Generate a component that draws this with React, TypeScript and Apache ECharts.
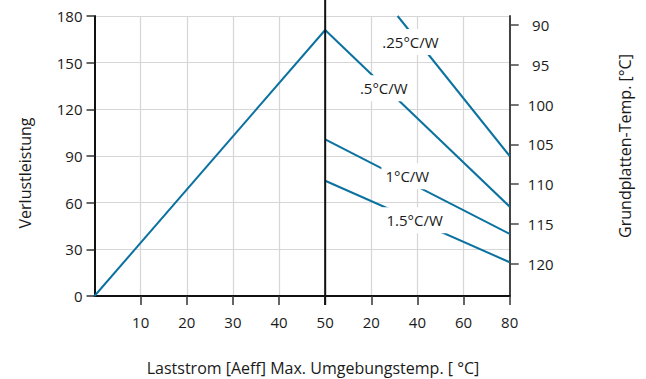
import React, { useEffect, useRef } from "react";
import * as echarts from "echarts";

// Left part of x axis: load current [Aeff]; right part: max ambient temperature [°C]
const currentTicks = [10, 20, 30, 40, 50];
const ambientTicks = [20, 40, 60, 80];
const powerTicks = [0, 30, 60, 90, 120, 150, 180];
const plateTempTicks = [90, 95, 100, 105, 110, 115, 120];

// Power loss vs. load current
const rampCurrent = [0, 50];
const rampPower = [0, 171];

// Max ambient temperature vs. power loss for each thermal resistance
const resistanceNames = [".25°C/W", ".5°C/W", "1°C/W", "1.5°C/W"];
const resAmbient = [
  [31.4, 80],
  [0, 80],
  [0, 80],
  [0, 80],
];
const resPower = [
  [180, 90],
  [171, 57.4],
  [100.7, 39.9],
  [74.1, 21.7],
];
// where each curve's label sits (ambient °C, power)
const labelAmbient = [37, 25.4, 35.6, 38.8];
const labelPower = [163.3, 133.5, 77, 48.7];

const FONT = "Open Sans";
const TEXT = "#1a1a1a";
const BLUE = "#0b72a0";

// combined x axis: 0..50 = current, 50..90 = ambient 0..80
const ambToX = (a: number) => 50 + a / 2;

export default function App() {
  const ref = useRef<HTMLDivElement>(null);
  useEffect(() => {
    document.body.style.margin = "0";
    const chart = echarts.init(ref.current!, null, { renderer: "svg" });
    const xTickVals = [...currentTicks, ...ambientTicks.map(ambToX)];
    const xLabelText = (v: number) => {
      if (v <= 50) return String(v);
      const i = ambientTicks.findIndex((a) => Math.abs(ambToX(a) - v) < 1e-6);
      return i >= 0 ? String(ambientTicks[i]) : "";
    };
    const series: any[] = [
      {
        type: "line",
        data: rampCurrent.map((c, i) => [c, rampPower[i]]),
        symbol: "none",
        lineStyle: { color: BLUE, width: 2 },
        z: 2,
      },
      ...resistanceNames.map((n, k) => ({
        type: "line",
        name: n,
        data: resAmbient[k].map((a, i) => [ambToX(a), resPower[k][i]]),
        symbol: "none",
        lineStyle: { color: BLUE, width: 2 },
        z: 2,
      })),
    ];
    chart.setOption({
      animation: false,
      textStyle: { fontFamily: FONT },
      grid: { left: 94.5, top: 16, right: 136.3, bottom: 83, containLabel: false },
      xAxis: {
        type: "value",
        min: 0,
        max: 90,
        interval: 10,
        axisLine: { show: true, onZero: false, lineStyle: { color: "#111", width: 2 } },
        axisTick: { show: true, length: 9, customValues: xTickVals, lineStyle: { color: "#333", width: 1.5 } },
        axisLabel: {
          customValues: xTickVals,
          formatter: xLabelText,
          color: TEXT,
          fontFamily: FONT,
          fontSize: 15,
          margin: 18,
        },
        splitLine: { show: true, lineStyle: { color: "#d6d6d6", width: 1.2 } },
      },
      yAxis: [
        {
          type: "value",
          min: 0,
          max: 180,
          interval: 30,
          position: "left",
          axisLine: { show: true, lineStyle: { color: "#111", width: 2 } },
          axisTick: { show: true, length: 8, lineStyle: { color: "#333", width: 1.5 } },
          axisLabel: { color: TEXT, fontFamily: FONT, fontSize: 15, margin: 12 },
          splitLine: { show: true, lineStyle: { color: "#d6d6d6", width: 1.2 } },
        },
        {
          type: "value",
          inverse: true,
          min: 88.86,
          max: 124.05,
          position: "right",
          axisLine: { show: true, lineStyle: { color: "#444", width: 2 } },
          axisTick: { show: true, length: 9, customValues: plateTempTicks, lineStyle: { color: "#444", width: 1.5 } },
          axisLabel: {
            customValues: plateTempTicks,
            color: TEXT,
            fontFamily: FONT,
            fontSize: 15,
            margin: 31,
            align: "center",
          },
          splitLine: { show: false },
        },
      ],
      series,
    });
    const x50 = chart.convertToPixel({ xAxisIndex: 0 }, 50) as number;
    const yBottom = chart.convertToPixel({ yAxisIndex: 0 }, powerTicks[0]) as number;
    const curveLabels = resistanceNames.map((n, k) => {
      const p = chart.convertToPixel({ xAxisIndex: 0, yAxisIndex: 0 }, [
        ambToX(labelAmbient[k]),
        labelPower[k],
      ]) as number[];
      return {
        type: "text",
        x: p[0],
        y: p[1],
        z: 20,
        style: {
          text: n,
          fill: TEXT,
          font: `15px "${FONT}"`,
          align: "center",
          verticalAlign: "middle",
          backgroundColor: "#ffffff",
          padding: [5, 4, 6, 4],
        },
      };
    });
    chart.setOption({
      graphic: [
        {
          type: "line",
          shape: { x1: x50, y1: 0, x2: x50, y2: yBottom + 9 },
          style: { stroke: "#111", lineWidth: 2 },
          z: 10,
        },
        ...curveLabels,
        {
          type: "text",
          x: 25,
          y: 173,
          rotation: Math.PI / 2,
          style: { text: "Verlustleistung", fill: TEXT, font: `16px "${FONT}"`, align: "center", verticalAlign: "middle" },
        },
        {
          type: "text",
          x: 625,
          y: 146,
          rotation: Math.PI / 2,
          style: { text: "Grundplatten-Temp. [°C]", fill: TEXT, font: `16px "${FONT}"`, align: "center", verticalAlign: "middle" },
        },
        {
          type: "text",
          x: 313,
          y: 368,
          style: { text: "Laststrom [Aeff] Max. Umgebungstemp. [ °C]", fill: TEXT, font: `16px "${FONT}"`, align: "center", verticalAlign: "middle" },
        },
      ],
    });
    return () => chart.dispose();
  }, []);
  return <div ref={ref} style={{ width: 646, height: 379 }} />;
}
